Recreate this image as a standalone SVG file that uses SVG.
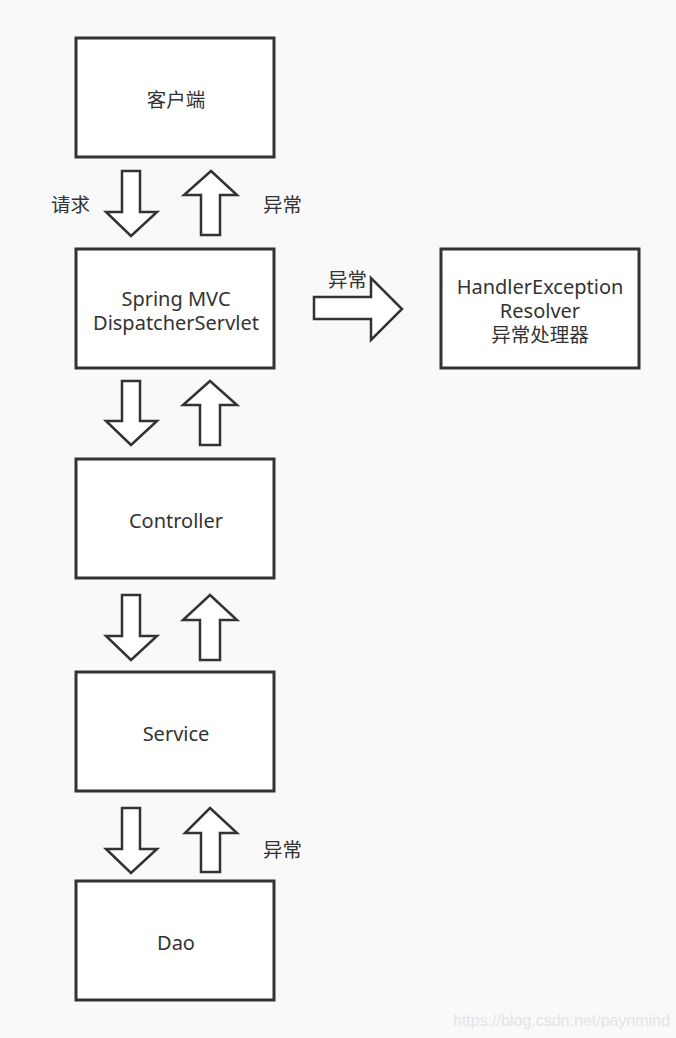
<svg xmlns="http://www.w3.org/2000/svg" width="676" height="1038" viewBox="0 0 676 1038">
<style>
.box{fill:#ffffff;stroke:#333333;stroke-width:3}
.arr{fill:#ffffff;stroke:#333333;stroke-width:2.5;stroke-linejoin:miter}
.t{font-family:"Noto Sans","Noto Sans CJK SC",sans-serif;font-size:20px;fill:#333333;text-anchor:middle}
.c{font-family:"Noto Sans CJK SC","Noto Sans",sans-serif;font-size:19.5px;fill:#333333;text-anchor:middle}
.l{font-family:"Noto Sans CJK SC","Noto Sans",sans-serif;font-size:19.5px;fill:#333333}
.wm{font-family:"Liberation Sans",Arial,sans-serif;font-size:16px;fill:#e4e4e4}
</style>
<rect width="676" height="1038" fill="#f9f9f9"/>
<g id="client">
<rect class="box" x="76" y="38" width="198" height="119"/>
<text class="c" x="176" y="107">客户端</text>
</g>
<g id="dispatcher">
<rect class="box" x="76" y="249" width="198" height="119"/>
<text class="t" x="176" y="306">Spring MVC</text>
<text class="t" x="176" y="330">DispatcherServlet</text>
</g>
<g id="resolver">
<rect class="box" x="441" y="249" width="198" height="119"/>
<text class="t" x="540" y="294">HandlerException</text>
<text class="t" x="540" y="318">Resolver</text>
<text class="c" x="540" y="342">异常处理器</text>
</g>
<g id="controller">
<rect class="box" x="76" y="459" width="198" height="119"/>
<text class="t" x="176" y="528">Controller</text>
</g>
<g id="service">
<rect class="box" x="76" y="672" width="198" height="119"/>
<text class="t" x="176" y="741">Service</text>
</g>
<g id="dao">
<rect class="box" x="76" y="881" width="198" height="119"/>
<text class="t" x="176" y="950">Dao</text>
</g>
<g id="connectors">
<polygon class="arr" points="122,171 140,171 140,212 157,212 131,236 106,212 122,212"/>
<polygon class="arr" points="211,171 237,195 220,195 220,235 201,235 201,195 184,195"/>
<polygon class="arr" points="122,381 140,381 140,421 157,421 131,445 106,421 122,421"/>
<polygon class="arr" points="210,381 237,405 220,405 220,445 200,445 200,405 183,405"/>
<polygon class="arr" points="122,595 140,595 140,636 157,636 131,660 106,636 122,636"/>
<polygon class="arr" points="210,595 237,620 220,620 220,660 200,660 200,620 183,620"/>
<polygon class="arr" points="122,808 140,808 140,849 157,849 131,873 106,849 122,849"/>
<polygon class="arr" points="210,808 237,833 220,833 220,872 201,872 201,833 185,833"/>
<polygon class="arr" points="314,297 371,297 371,278 402,309 371,340 371,319 314,319"/>
<text class="l" x="51" y="212">请求</text>
<text class="l" x="263" y="212">异常</text>
<text class="l" x="328" y="287">异常</text>
<text class="l" x="263" y="857">异常</text>
</g>
<text class="wm" x="453" y="1026">https://blog.csdn.net/paynmind</text>
</svg>
